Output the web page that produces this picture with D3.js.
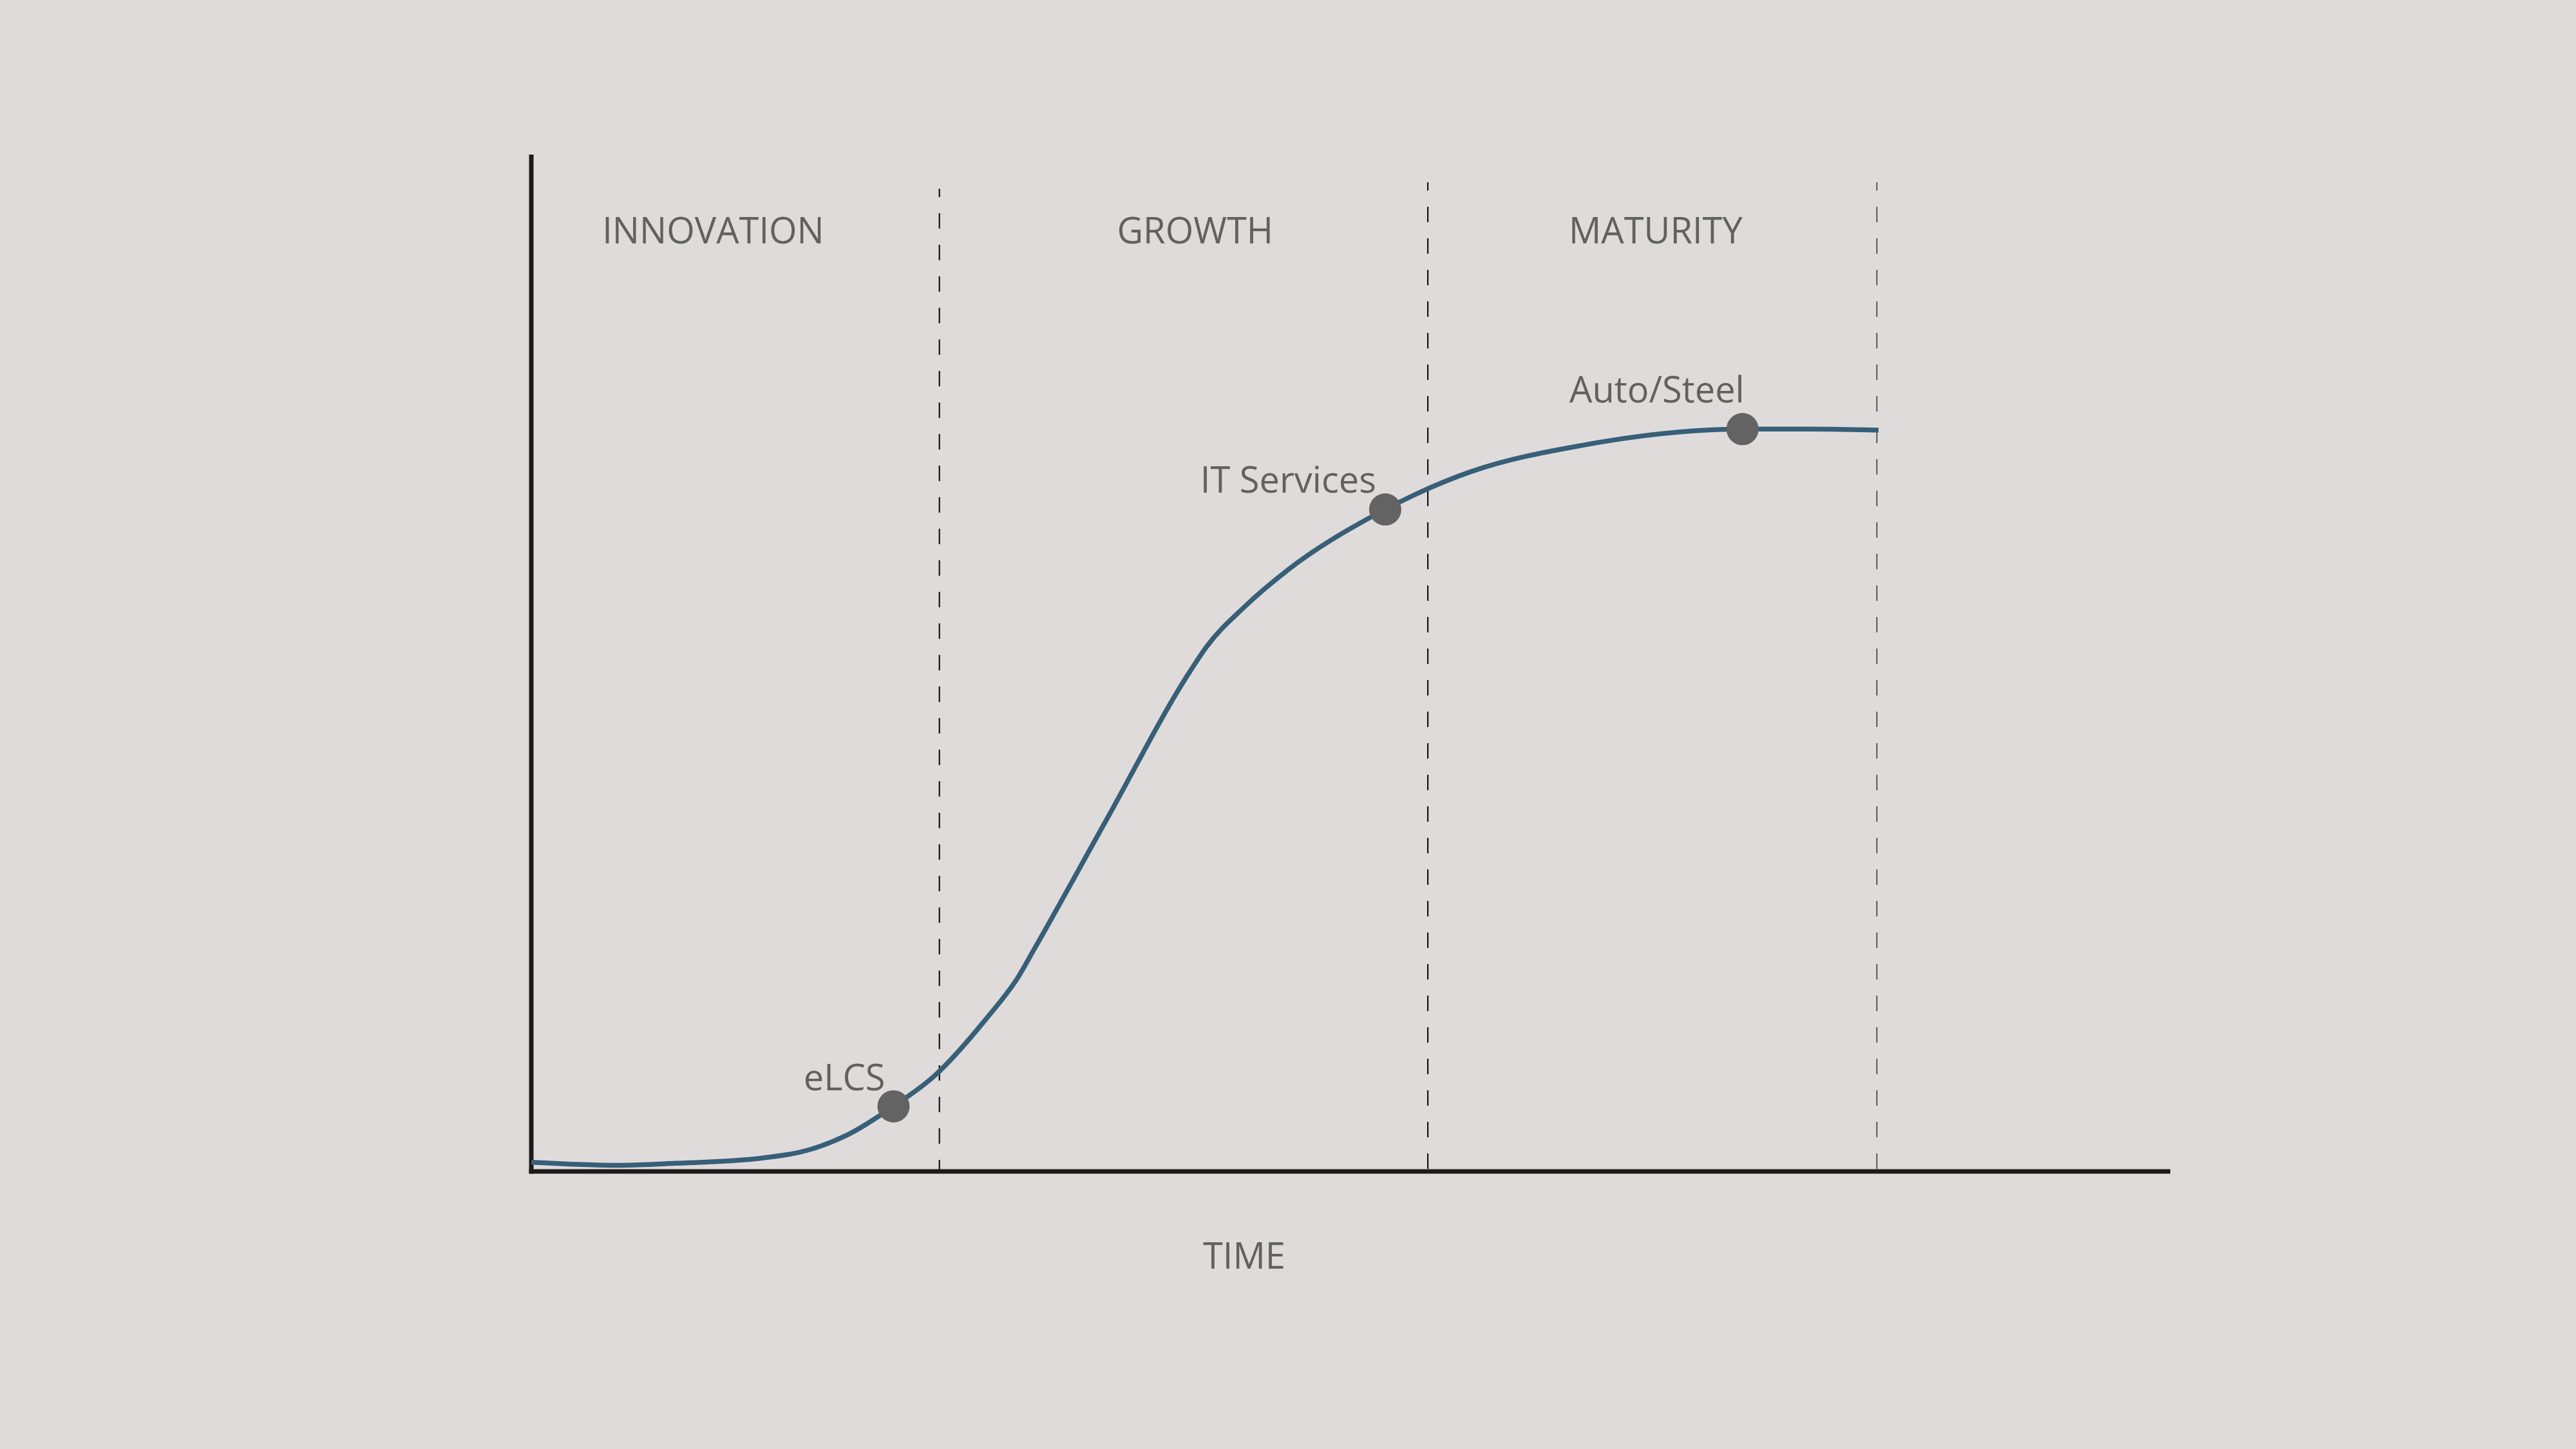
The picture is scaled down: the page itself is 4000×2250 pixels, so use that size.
<!DOCTYPE html>
<html>
<head>
<meta charset="utf-8">
<script src="https://cdn.jsdelivr.net/npm/d3@7"></script>
<style>
  html, body { margin: 0; padding: 0; background: #e0dbdb; }
  svg { display: block; }
  text { font-family: "Open Sans", "Noto Sans", sans-serif; fill: #616161; }
</style>
</head>
<body>
<svg id="chart" width="4000" height="2250"></svg>
<script>
// S-curve: time (0-100) vs. value (0-100)
var curveTime  = [0, 5.3, 8.8, 14, 17.1, 19.3, 22.1, 24.6, 27.8, 29.7, 30.7, 35.1, 40.2, 41.2,
                  43.5, 46.2, 51.4, 57.3, 64.1, 73.9, 78.1, 82.2];
var curveValue = [0.9, 0.6, 0.8, 1.3, 2.2, 3.6, 6.4, 9.4, 15.1, 19.1, 21.9, 34.6, 49.2, 51.6,
                  55.5, 59.2, 64.5, 68.8, 71.4, 73, 73, 72.9];

// stages and their borders
var stageNames  = ["INNOVATION", "GROWTH", "MATURITY"];
var stageCenter = [11.1, 40.5, 68.6];
var stageBorder = [24.9, 54.7, 82.1];

// industries on the curve
var industryNames = ["eLCS", "IT Services", "Auto/Steel"];
var industryTime  = [22.1, 52.1, 73.9];
var industryValue = [6.4, 65.1, 73];

var svg = d3.select("#chart");

var x = d3.scaleLinear().domain([0, 100]).range([825, 3370]);
var y = d3.scaleLinear().domain([0, 100]).range([1819, 240]);

// label offsets are layout only
var labelShift = { "eLCS": [-13, -25], "IT Services": [-14, -26], "Auto/Steel": [3, -41] };
var borderTop = [293, 283, 283];
var borderWidth = [2.2, 2.2, 1.3];

// dashed stage borders
svg.selectAll("line.border")
  .data(stageBorder)
  .enter().append("line")
  .attr("class", "border")
  .attr("x1", function(d) { return x(d); })
  .attr("x2", function(d) { return x(d); })
  .attr("y1", function(d, i) { return borderTop[i]; })
  .attr("y2", y(0) - 3)
  .style("stroke", "#151515")
  .style("stroke-width", function(d, i) { return borderWidth[i]; })
  .style("stroke-dasharray", "24,25")
  .style("stroke-dashoffset", 11);

// axes, no ticks
var xAxis = svg.append("g").attr("transform", "translate(0," + y(0) + ")")
  .call(d3.axisBottom(x).tickValues([]).tickSizeOuter(0));
var yAxis = svg.append("g").attr("transform", "translate(" + x(0) + ",0)")
  .call(d3.axisLeft(y).tickValues([]).tickSizeOuter(0));
xAxis.select(".domain").style("stroke", "#1c1a1a").style("stroke-width", 7).attr("d", "M" + (x(0) - 3.5) + ",0H" + x(100));
yAxis.select(".domain").style("stroke", "#1c1a1a").style("stroke-width", 7).attr("d", "M0," + (y(0) + 3.5) + "V" + y(100));

// the curve
var pts = curveTime.map(function(t, i) { return [t, curveValue[i]]; });
var line = d3.line()
  .x(function(d) { return x(d[0]); })
  .y(function(d) { return y(d[1]); })
  .curve(d3.curveMonotoneX);

svg.append("path")
  .datum(pts)
  .attr("d", line)
  .style("fill", "none")
  .style("stroke", "#375f78")
  .style("stroke-width", 7.5);

// dots and names
svg.selectAll("circle.dot")
  .data(industryNames)
  .enter().append("circle")
  .attr("class", "dot")
  .attr("cx", function(d, i) { return x(industryTime[i]); })
  .attr("cy", function(d, i) { return y(industryValue[i]); })
  .attr("r", 25)
  .style("fill", "#636363");

svg.selectAll("text.ind")
  .data(industryNames)
  .enter().append("text")
  .attr("class", "ind")
  .attr("x", function(d, i) { return x(industryTime[i]) + labelShift[d][0]; })
  .attr("y", function(d, i) { return y(industryValue[i]) + labelShift[d][1]; })
  .attr("text-anchor", "end")
  .style("font-size", "56px")
  .text(function(d) { return d; });

// stage titles
svg.selectAll("text.stage")
  .data(stageNames)
  .enter().append("text")
  .attr("class", "stage")
  .attr("x", function(d, i) { return x(stageCenter[i]); })
  .attr("y", 378)
  .attr("text-anchor", "middle")
  .style("font-size", "56px")
  .text(function(d) { return d; });

svg.append("text")
  .attr("x", 1932)
  .attr("y", 1970)
  .attr("text-anchor", "middle")
  .style("font-size", "56px")
  .text("TIME");
</script>
</body>
</html>
